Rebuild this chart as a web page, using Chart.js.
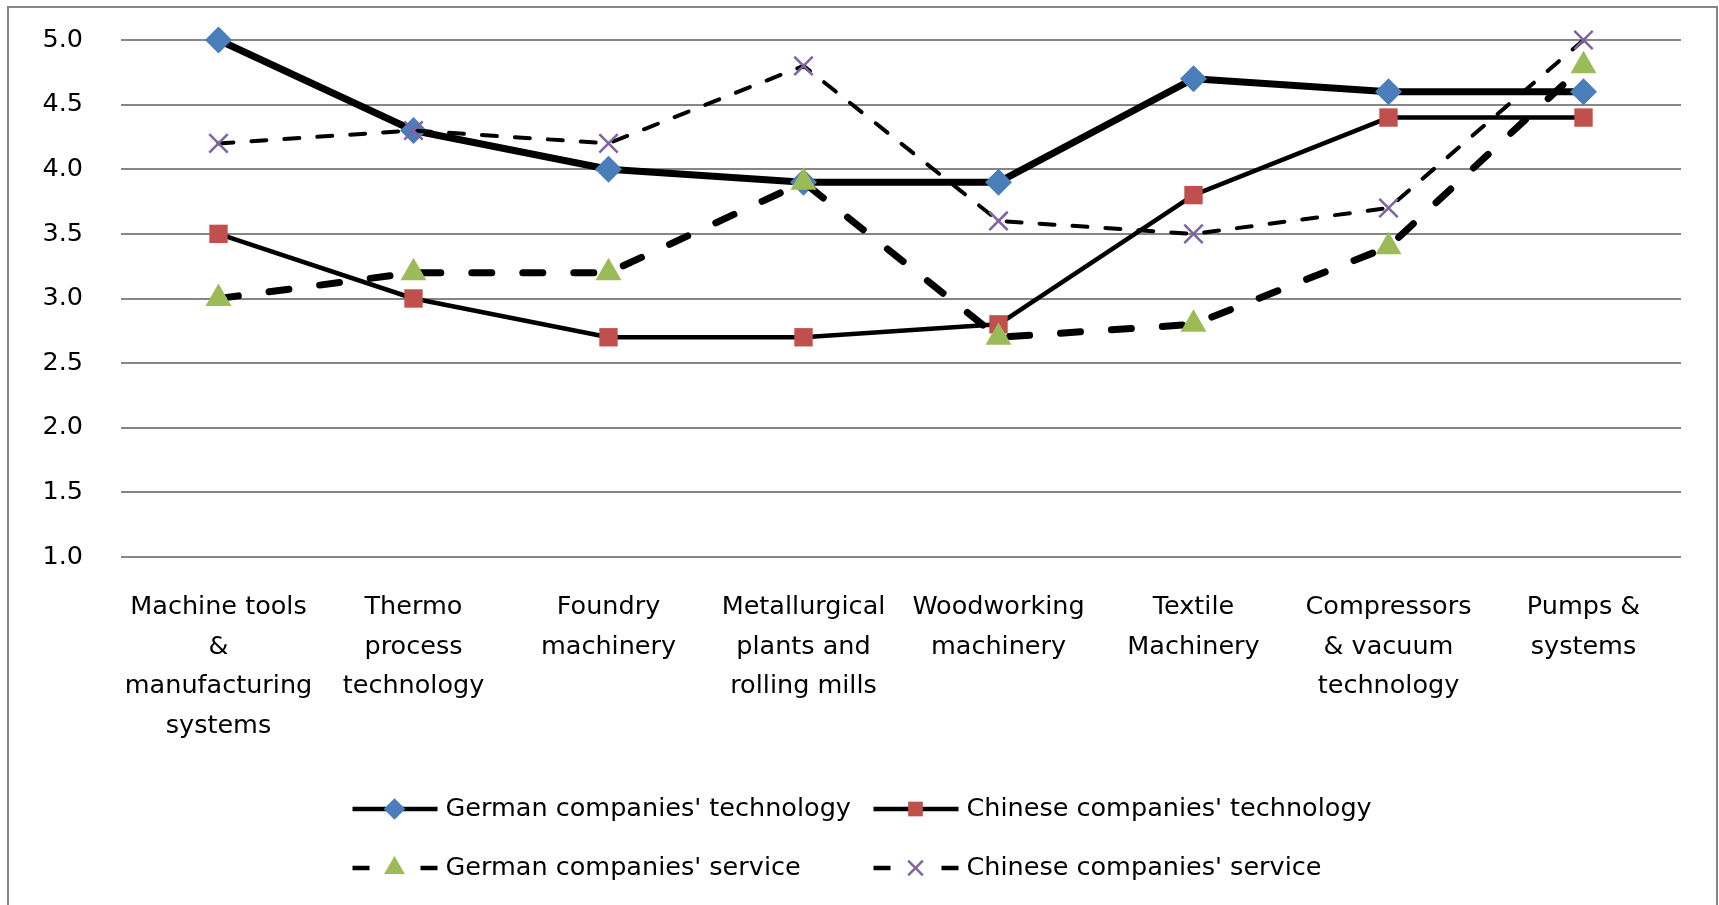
<!DOCTYPE html>
<html>
<head>
<meta charset="utf-8">
<title>Technology and service ratings</title>
<script src="https://cdn.jsdelivr.net/npm/chart.js@4.4.1/dist/chart.umd.min.js"></script>
<style>
  html, body { margin: 0; padding: 0; background: #fff; }
  #wrap { width: 1719px; height: 905px; }
</style>
</head>
<body>
<div id="wrap"><canvas id="chart1" width="1719" height="905"></canvas></div>
<script>
// categories and the way Excel wrapped them under the axis
var categories = ['Machine tools & manufacturing systems', 'Thermo process technology', 'Foundry machinery',
    'Metallurgical plants and rolling mills', 'Woodworking machinery', 'Textile Machinery',
    'Compressors & vacuum technology', 'Pumps & systems'];
var categoryLines = [
    ['Machine tools', '&', 'manufacturing', 'systems'],
    ['Thermo', 'process', 'technology'],
    ['Foundry', 'machinery'],
    ['Metallurgical', 'plants and', 'rolling mills'],
    ['Woodworking', 'machinery'],
    ['Textile', 'Machinery'],
    ['Compressors', '& vacuum', 'technology'],
    ['Pumps &', 'systems']
];

var seriesNames = ["German companies' technology", "Chinese companies' technology",
    "German companies' service", "Chinese companies' service"];
var germanTech = [5.0, 4.3, 4.0, 3.9, 3.9, 4.7, 4.6, 4.6];
var chineseTech = [3.5, 3.0, 2.7, 2.7, 2.8, 3.8, 4.4, 4.4];
var germanService = [3.0, 3.2, 3.2, 3.9, 2.7, 2.8, 3.4, 4.8];
var chineseService = [4.2, 4.3, 4.2, 4.8, 3.6, 3.5, 3.7, 5.0];

var yMin = 1.0;
var yMax = 5.0;
var yStep = 0.5;

var FONT = '"DejaVu Sans"';
var FONT_SIZE = 25.5;

// frame around the whole chart plus an Excel style 2 x 2 legend
var frameAndLegend = {
    id: 'frameAndLegend',
    beforeDraw: function (chart) {
        var c = chart.ctx;
        c.save();
        c.fillStyle = '#fff';
        c.fillRect(0, 0, chart.width, chart.height);
        c.strokeStyle = '#868686';
        c.lineWidth = 2;
        c.strokeRect(8, 7, chart.width - 10, chart.height + 20);
        c.restore();
    },
    afterDraw: function (chart) {
        var c = chart.ctx;
        var colW = 521;
        var left = chart.width / 2 - 507;
        chart.data.datasets.forEach(function (ds, i) {
            var x = left + (i % 2) * colW;
            var y = chart.chartArea.bottom + 252 + Math.floor(i / 2) * 59;
            c.save();
            c.strokeStyle = '#000';
            c.lineWidth = 4.5;
            c.setLineDash(ds.borderDash ? [17, 51] : []);
            c.beginPath();
            c.moveTo(x, y);
            c.lineTo(x + 85, y);
            c.stroke();
            c.setLineDash([]);
            c.fillStyle = ds.pointBackgroundColor;
            c.strokeStyle = ds.pointBorderColor;
            c.lineWidth = ds.pointBorderWidth;
            Chart.helpers.drawPoint(c, {
                pointStyle: ds.pointStyle,
                radius: ds.pointRadius * 0.8,
                rotation: 0,
                borderWidth: ds.pointBorderWidth
            }, x + 42, y);
            c.fillStyle = '#000';
            c.font = FONT_SIZE + 'px ' + FONT;
            c.textBaseline = 'middle';
            c.textAlign = 'left';
            c.fillText(ds.label, x + 93, y);
            c.restore();
        });
    }
};

var ctx1 = document.getElementById('chart1').getContext('2d');

var chart1 = new Chart(ctx1, {
    type: 'line',
    data: {
        labels: categoryLines,
        datasets: [{
            label: seriesNames[0],
            data: germanTech,
            borderColor: '#000',
            borderWidth: 7,
            pointStyle: 'rectRot',
            pointRadius: 13.5,
            pointBackgroundColor: '#4a7ebb',
            pointBorderColor: '#4a7ebb',
            pointBorderWidth: 0,
            order: 4
        }, {
            label: seriesNames[1],
            data: chineseTech,
            borderColor: '#000',
            borderWidth: 4.5,
            pointStyle: 'rect',
            pointRadius: 13,
            pointBackgroundColor: '#c0504d',
            pointBorderColor: '#c0504d',
            pointBorderWidth: 0,
            order: 3
        }, {
            label: seriesNames[2],
            data: germanService,
            borderColor: '#000',
            borderWidth: 7,
            borderDash: [20, 31],
            borderCapStyle: 'round',
            pointStyle: 'triangle',
            pointRadius: 15,
            pointBackgroundColor: '#9bbb59',
            pointBorderColor: '#9bbb59',
            pointBorderWidth: 0,
            order: 2
        }, {
            label: seriesNames[3],
            data: chineseService,
            borderColor: '#000',
            borderWidth: 4,
            borderDash: [15, 18],
            borderCapStyle: 'round',
            pointStyle: 'crossRot',
            pointRadius: 13,
            pointBackgroundColor: '#8064a2',
            pointBorderColor: '#8064a2',
            pointBorderWidth: 2.5,
            order: 1
        }]
    },
    options: {
        responsive: false,
        animation: false,
        events: [],
        clip: false,
        elements: {
            line: { tension: 0, borderJoinStyle: 'round', fill: false }
        },
        layout: {
            padding: { left: 0, right: 38, top: 40, bottom: 0 }
        },
        plugins: {
            legend: { display: false },
            tooltip: { enabled: false }
        },
        scales: {
            x: {
                offset: true,
                grid: { display: false, drawTicks: false },
                border: { display: false },
                ticks: {
                    color: '#000',
                    padding: 31,
                    maxRotation: 0,
                    autoSkip: false,
                    font: { family: FONT, size: FONT_SIZE, lineHeight: 1.55 }
                },
                afterFit: function (s) {
                    s.height = 348;
                    s.paddingLeft = 0;
                    s.paddingRight = 0;
                }
            },
            y: {
                min: yMin,
                max: yMax,
                grid: { color: '#868686', lineWidth: 2, drawTicks: false },
                border: { display: false },
                ticks: {
                    stepSize: yStep,
                    color: '#000',
                    padding: 38,
                    font: { family: FONT, size: FONT_SIZE },
                    callback: function (v) { return v.toFixed(1); }
                },
                afterFit: function (s) {
                    s.width = 121;
                    s.paddingTop = 0;
                    s.paddingBottom = 0;
                }
            }
        }
    },
    plugins: [frameAndLegend]
});
</script>
</body>
</html>
